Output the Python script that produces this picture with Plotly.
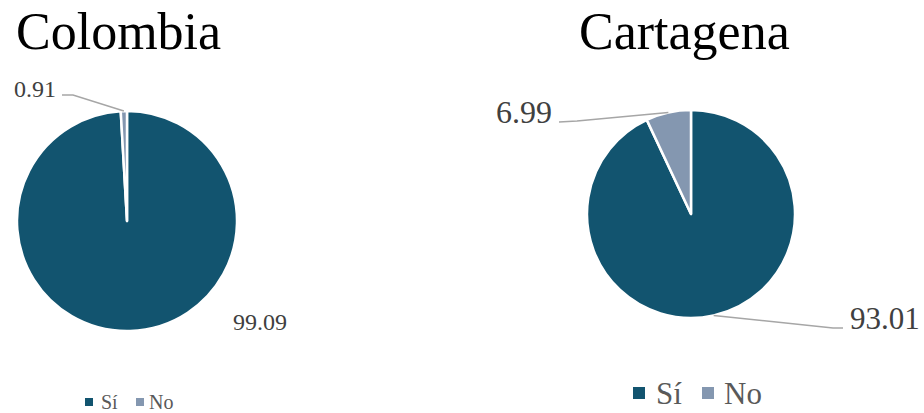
import math
import plotly.graph_objects as go

# Survey answers (%) per territory
categories = ["Sí", "No"]
colombia_values = [99.09, 0.91]
cartagena_values = [93.01, 6.99]
titles = ["Colombia", "Cartagena"]

COLORS = ["#12546F", "#8497B0"]
W, H = 924, 413
SERIF = "Liberation Serif, Times New Roman, Tinos, DejaVu Serif, serif"

# Pie geometry in pixels: centre x, centre y, radius
pies = [
    dict(cx=127, cy=221, r=110),
    dict(cx=691, cy=214, r=104),
]


def px(x):
    return x / W


def py(y):
    return 1 - y / H


def edge_point(values, idx, geo):
    """Point on the rim at the middle of slice idx (clockwise from 12 o'clock)."""
    total = sum(values)
    start = sum(values[:idx])
    mid = (start + values[idx] / 2) / total * 2 * math.pi
    return geo["cx"] + geo["r"] * math.sin(mid), geo["cy"] - geo["r"] * math.cos(mid)


fig = go.Figure()
for i, (vals, geo) in enumerate(zip([colombia_values, cartagena_values], pies)):
    fig.add_trace(go.Pie(
        labels=categories,
        values=vals,
        sort=False,
        direction="clockwise",
        rotation=0,
        textinfo="none",
        hoverinfo="label+value",
        marker=dict(colors=COLORS, line=dict(color="white", width=2.5)),
        domain=dict(
            x=[px(geo["cx"] - geo["r"]), px(geo["cx"] + geo["r"])],
            y=[py(geo["cy"] + geo["r"]), py(geo["cy"] - geo["r"])],
        ),
        showlegend=False,
    ))

annotations = []
shapes = []

# Titles
title_pos = [(118, 31), (684, 31)]
for t, (tx, ty) in zip(titles, title_pos):
    annotations.append(dict(
        text=t, x=px(tx), y=py(ty), xref="paper", yref="paper",
        xanchor="center", yanchor="middle", showarrow=False,
        font=dict(family=SERIF, size=52, color="black"),
    ))

# Data labels: (chart, slice, text anchor, font size, elbow points before rim)
label_specs = [
    dict(chart=0, idx=1, x=58, y=89, xanchor="right", size=24,
         path=[(62, 95), (73, 95)]),
    dict(chart=0, idx=0, x=260, y=322, xanchor="center", size=24, path=None),
    dict(chart=1, idx=1, x=554, y=112, xanchor="right", size=32,
         path=[(559, 122), (577, 121)]),
    dict(chart=1, idx=0, x=848, y=318, xanchor="left", size=31,
         path=[(843, 328), (833, 328)]),
]
all_values = [colombia_values, cartagena_values]
for spec in label_specs:
    vals = all_values[spec["chart"]]
    annotations.append(dict(
        text=f"{vals[spec['idx']]:.2f}", x=px(spec["x"]), y=py(spec["y"]),
        xref="paper", yref="paper", xanchor=spec["xanchor"], yanchor="middle",
        showarrow=False, font=dict(family=SERIF, size=spec["size"], color="#404040"),
    ))
    if spec["path"]:
        ex, ey = edge_point(vals, spec["idx"], pies[spec["chart"]])
        pts = spec["path"] + [(ex, ey)]
        d = "M " + " L ".join(f"{px(a)},{py(b)}" for a, b in pts)
        shapes.append(dict(type="path", path=d, xref="paper", yref="paper",
                           line=dict(color="#A6A6A6", width=1.5)))

# Legends under each pie: swatch x positions, row centre, swatch size, font size
legend_specs = [
    dict(swatch_x=[85, 136], text_x=[99, 147], y=402, sq=8, size=20),
    dict(swatch_x=[633, 702], text_x=[654, 722], y=393, sq=12, size=31),
]
for spec in legend_specs:
    for cat, col, sx, tx in zip(categories, COLORS, spec["swatch_x"], spec["text_x"]):
        h = spec["sq"] / 2
        shapes.append(dict(
            type="rect", xref="paper", yref="paper",
            x0=px(sx), x1=px(sx + spec["sq"]),
            y0=py(spec["y"] + h), y1=py(spec["y"] - h),
            fillcolor=col, line=dict(width=0),
        ))
        annotations.append(dict(
            text=cat, x=px(tx), y=py(spec["y"]), xref="paper", yref="paper",
            xanchor="left", yanchor="middle", showarrow=False,
            font=dict(family=SERIF, size=spec["size"], color="#595959"),
        ))

fig.update_layout(
    width=W, height=H,
    margin=dict(l=0, r=0, t=0, b=0),
    paper_bgcolor="white", plot_bgcolor="white",
    font=dict(family=SERIF),
    annotations=annotations,
    shapes=shapes,
    showlegend=False,
)

fig.write_html("out.html")
